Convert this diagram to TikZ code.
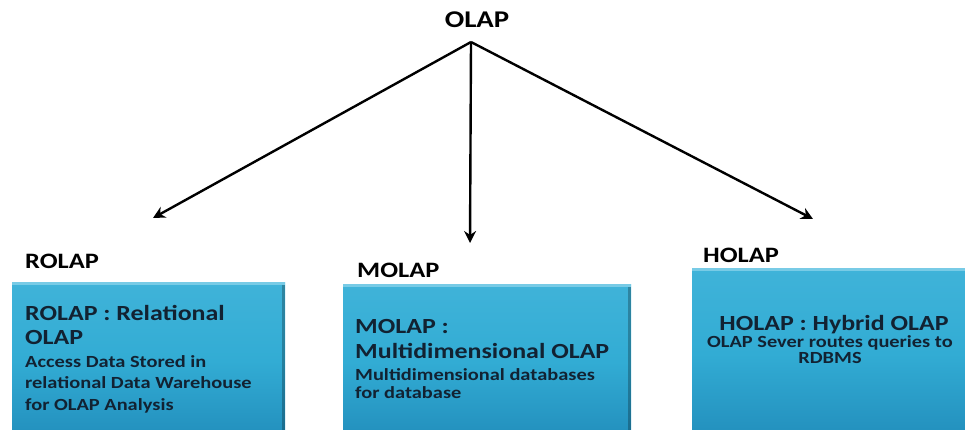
\documentclass[tikz,border=0pt]{standalone}
\usepackage{fontspec}
\setmainfont{Carlito}[FakeStretch=1.2]
\usetikzlibrary{arrows.meta}
\definecolor{boxtop}{RGB}{95,195,228}
\definecolor{boxmid}{RGB}{50,172,212}
\definecolor{boxbot}{RGB}{34,142,188}
\definecolor{txt}{RGB}{18,34,50}
\tikzset{
  panel/.style={draw=none, top color=boxmid!70!boxtop, bottom color=boxbot, middle color=boxmid},
  big/.style={font=\bfseries\fontsize{21.6}{24}\selectfont, text=txt, inner sep=0pt},
  small/.style={font=\bfseries\fontsize{17}{19}\selectfont, text=txt, inner sep=0pt},
  head/.style={font=\bfseries\fontsize{22}{24}\selectfont, text=black, inner sep=0pt},
  conn/.style={line width=2.4pt, draw=black, -{Stealth[length=12pt,width=12pt]}}
}
\begin{document}
\begin{tikzpicture}[x=1pt,y=-1pt]
\clip (0,0) rectangle (965,429);
\fill[white] (0,0) rectangle (965,429);
% boxes
\shade[panel] (12,282) rectangle (285,440);
\shade[panel] (343,284) rectangle (631,440);
\shade[panel] (692,268) rectangle (965,440);
\fill[boxtop!60!white, opacity=0.6] (12,282) rectangle (285,285);
\fill[boxtop!60!white, opacity=0.6] (343,284) rectangle (631,287);
\fill[boxtop!60!white, opacity=0.6] (692,268) rectangle (965,271);
\fill[black, opacity=0.25] (282,285) rectangle (285,440);
\fill[black, opacity=0.25] (628,287) rectangle (631,440);
% top
\node[head, font=\bfseries\fontsize{24}{26}\selectfont, anchor=base] (olap) at (477,27) {OLAP};
\coordinate (root) at (471,42);
\coordinate (lt) at (153,218);
\coordinate (mt) at (470,243);
\coordinate (rt) at (813,219);
\draw[conn] (root) -- (lt);
\draw[conn] (root) -- (mt);
\draw[conn] (root) -- (rt);
% headings
\node[head, anchor=base west] (rolaph) at (25,268) {ROLAP};
\node[head, anchor=base west] (molaph) at (357,277) {MOLAP};
\node[head, anchor=base west] (holaph) at (703,262) {HOLAP};
% ROLAP box text
\node[big, anchor=base west] (r1) at (25,320) {ROLAP : Relational};
\node[big, anchor=base west] (r2) at (25,344) {OLAP};
\node[small, anchor=base west] (r3) at (25,367) {Access Data Stored in};
\node[small, anchor=base west] (r4) at (25,388) {relational Data Warehouse};
\node[small, anchor=base west] (r5) at (25,410) {for OLAP Analysis};
% MOLAP box text
\node[big, anchor=base west] (m1) at (355,333) {MOLAP :};
\node[big, anchor=base west] (m2) at (355,358) {Multidimensional OLAP};
\node[small, anchor=base west] (m3) at (355,380) {Multidimensional databases};
\node[small, anchor=base west] (m4) at (355,398) {for database};
% HOLAP box text
\node[big, anchor=base] (h1) at (834,330) {HOLAP : Hybrid OLAP};
\node[small, anchor=base] (h2) at (830,347) {OLAP Sever routes queries to};
\node[small, anchor=base] (h3) at (830,363) {RDBMS};
\end{tikzpicture}
\end{document}
